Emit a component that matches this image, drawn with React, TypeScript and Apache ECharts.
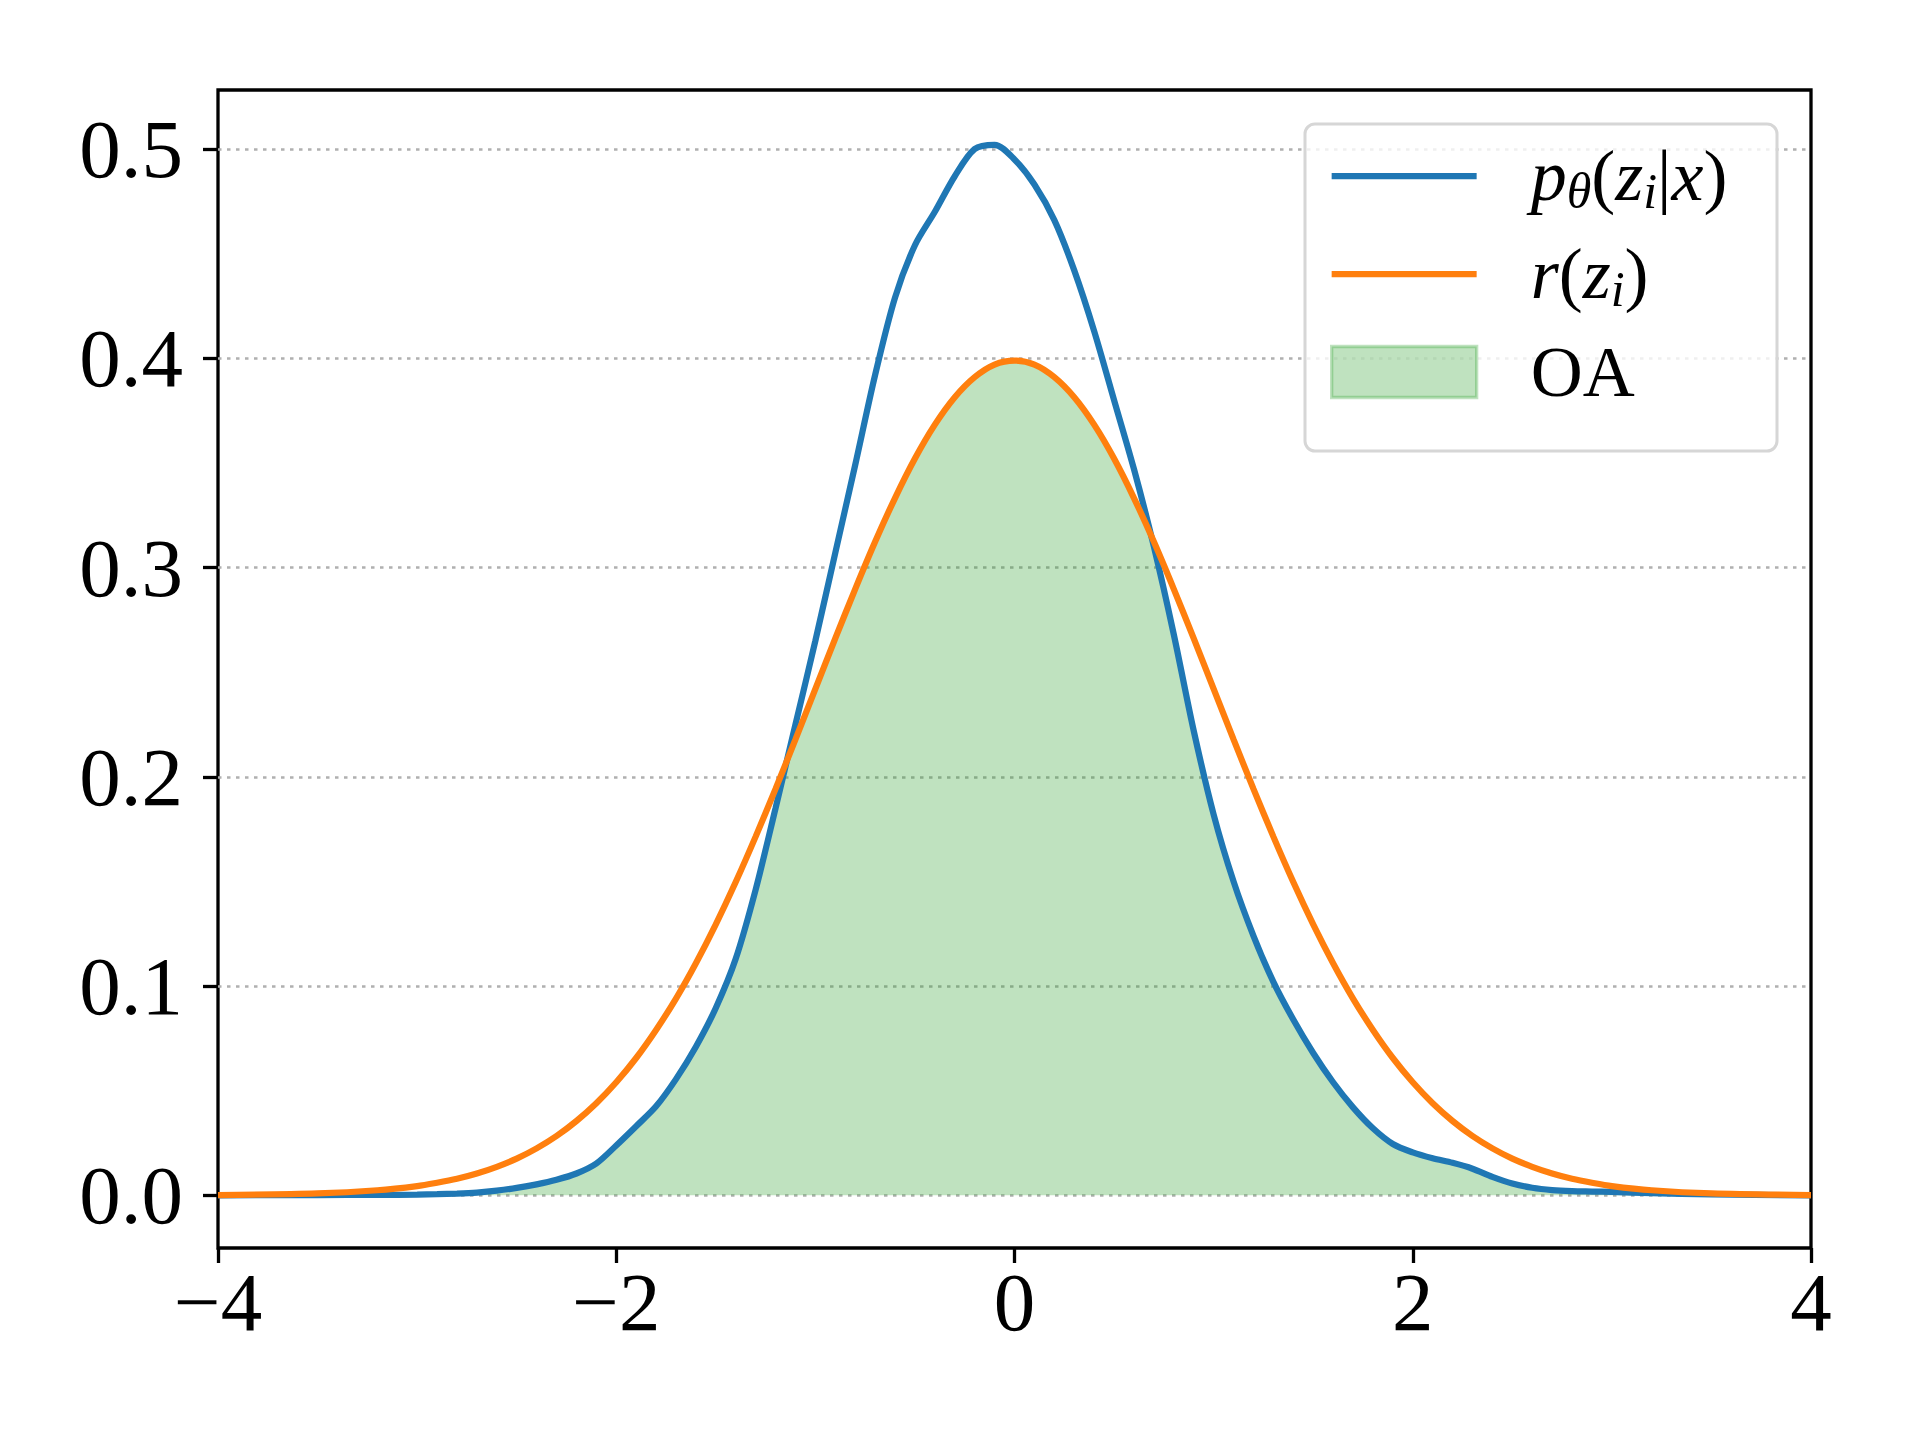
import React, { useEffect, useRef } from 'react';
import * as echarts from 'echarts';

// x positions shared by both curves
const xs = [
  -4, -3.5, -3.2, -3.0, -2.9, -2.8, -2.7, -2.6, -2.5, -2.4, -2.3, -2.2, -2.1,
  -2.0, -1.9, -1.8, -1.7, -1.6, -1.5, -1.4, -1.3, -1.2, -1.1, -1.0, -0.9, -0.8,
  -0.7, -0.6, -0.5, -0.4, -0.3, -0.2, -0.1, 0.0, 0.1, 0.2, 0.3, 0.4, 0.5, 0.6,
  0.7, 0.8, 0.9, 1.0, 1.1, 1.2, 1.3, 1.4, 1.5, 1.6, 1.7, 1.8, 1.9, 2.0, 2.1,
  2.2, 2.3, 2.4, 2.5, 2.6, 2.7, 2.8, 2.9, 3.0, 3.2, 3.5, 4,
];

// p_theta(z_i|x)
const posterior = [
  0.0, 0.0001, 0.0002, 0.0003, 0.0005, 0.0008, 0.0013, 0.0022, 0.0035, 0.0052,
  0.0074, 0.0104, 0.0152, 0.0238, 0.033, 0.0425, 0.0555, 0.071, 0.0895, 0.113,
  0.146, 0.185, 0.225, 0.265, 0.307, 0.349, 0.392, 0.429, 0.454, 0.47, 0.487,
  0.5, 0.502, 0.495, 0.483, 0.466, 0.442, 0.413, 0.38, 0.347, 0.31, 0.268,
  0.222, 0.182, 0.15, 0.124, 0.102, 0.084, 0.068, 0.054, 0.042, 0.032, 0.0245,
  0.0205, 0.0177, 0.0155, 0.0127, 0.0088, 0.0056, 0.0036, 0.0025, 0.002,
  0.0018, 0.0016, 0.001, 0.0004, 0.0,
];

// r(z_i)
const prior = [
  0.0001, 0.0009, 0.0024, 0.0044, 0.006, 0.0079, 0.0104, 0.0136, 0.0175,
  0.0224, 0.0283, 0.0355, 0.044, 0.054, 0.0656, 0.079, 0.094, 0.1109, 0.1295,
  0.1497, 0.1714, 0.1942, 0.2179, 0.242, 0.2661, 0.2897, 0.3123, 0.3332,
  0.3521, 0.3683, 0.3814, 0.391, 0.397, 0.3989, 0.397, 0.391, 0.3814, 0.3683,
  0.3521, 0.3332, 0.3123, 0.2897, 0.2661, 0.242, 0.2179, 0.1942, 0.1714,
  0.1497, 0.1295, 0.1109, 0.094, 0.079, 0.0656, 0.054, 0.044, 0.0355, 0.0283,
  0.0224, 0.0175, 0.0136, 0.0104, 0.0079, 0.006, 0.0044, 0.0024, 0.0009,
  0.0001,
];

const yTicks = [0, 0.1, 0.2, 0.3, 0.4, 0.5];

const FONT = '"Liberation Serif", "DejaVu Serif", serif';
const BLUE = '#1f77b4';
const ORANGE = '#ff7f0e';
const GREEN_A = 'rgba(44,160,44,0.3)';

export default function App() {
  const chartRef = useRef<HTMLDivElement>(null);

  useEffect(() => {
    if (!chartRef.current) return;
    const chart = echarts.init(chartRef.current, undefined, { renderer: 'svg' });

    const overlap = xs.map((x, i) => [x, Math.min(posterior[i], prior[i])]);

    const lineIcon = 'path://M0,0L145,0L145,6.25L0,6.25Z';

    chart.setOption({
      animation: false,
      backgroundColor: '#ffffff',
      grid: {
        left: 218,
        top: 90,
        width: 1593,
        height: 1158,
        show: true,
        borderColor: '#000',
        borderWidth: 3.3,
        backgroundColor: 'transparent',
      },
      xAxis: {
        type: 'value',
        min: -4,
        max: 4,
        interval: 2,
        axisLine: { show: false, onZero: false },
        axisTick: { show: true, length: 15, lineStyle: { color: '#000', width: 3.3 } },
        splitLine: { show: false },
        axisLabel: {
          color: '#000',
          fontFamily: FONT,
          fontSize: 83,
          margin: 12,
          formatter: (v: number) => (v < 0 ? '\u2212' + Math.abs(v) : String(v)),
        },
      },
      yAxis: {
        type: 'value',
        min: -0.0252,
        max: 0.5282,
        axisLine: { show: false, onZero: false },
        axisTick: {
          show: true,
          length: 15,
          customValues: yTicks,
          lineStyle: { color: '#000', width: 3.3 },
        },
        axisLabel: {
          color: '#000',
          fontFamily: FONT,
          fontSize: 83,
          margin: 35,
          customValues: yTicks,
          formatter: (v: number) => v.toFixed(1),
        },
        splitLine: {
          show: true,
          showMinLine: true,
          showMaxLine: true,
          lineStyle: { color: '#b0b0b0', width: 2.5, type: [3.5, 5.5] },
        },
      },
      legend: {
        orient: 'vertical',
        left: 1330,
        top: 140,
        padding: 0,
        itemGap: 22,
        itemWidth: 145,
        itemHeight: 51,
        selectedMode: false,
        symbolKeepAspect: true,
        textStyle: {
          color: '#000',
          fontFamily: FONT,
          fontSize: 72,
          padding: [0, 0, 0, 49],
          rich: {
            it: { fontFamily: FONT, fontSize: 72, fontStyle: 'italic', lineHeight: 80 },
            n: { fontFamily: FONT, fontSize: 72, lineHeight: 80 },
            sub: {
              fontFamily: FONT,
              fontSize: 50,
              fontStyle: 'italic',
              lineHeight: 40,
              verticalAlign: 'bottom',
            },
          },
        },
        data: [
          {
            name: 'posterior',
            icon: lineIcon,
            itemStyle: { color: BLUE, borderWidth: 0 },
          },
          {
            name: 'prior',
            icon: lineIcon,
            itemStyle: { color: ORANGE, borderWidth: 0 },
          },
          {
            name: 'OA',
            icon: 'rect',
            itemStyle: { color: GREEN_A, borderColor: GREEN_A, borderWidth: 3.3 },
          },
        ],
        formatter: (name: string) => {
          if (name === 'posterior') return '{it|p}{sub|θ}{n|(}{it|z}{sub|i}{n||}{it|x}{n|)}';
          if (name === 'prior') return '{it|r}{n|(}{it|z}{sub|i}{n|)}';
          return '{n|OA}';
        },
      },
      graphic: [
        {
          type: 'rect',
          z: 3,
          shape: { x: 1305, y: 124, width: 472, height: 327, r: 10 },
          style: { fill: 'rgba(255,255,255,0.8)', stroke: '#d6d6d6', lineWidth: 3 },
        },
      ],
      series: [
        {
          name: 'OA',
          type: 'line',
          data: overlap,
          smooth: 0.3,
          symbol: 'none',
          z: 1,
          itemStyle: { color: GREEN_A },
          lineStyle: { width: 0, color: GREEN_A },
          areaStyle: { color: GREEN_A, opacity: 1, origin: 0 },
        },
        {
          name: 'posterior',
          type: 'line',
          data: xs.map((x, i) => [x, posterior[i]]),
          smooth: 0.3,
          symbol: 'none',
          z: 2,
          itemStyle: { color: BLUE },
          lineStyle: { width: 6.25, color: BLUE },
        },
        {
          name: 'prior',
          type: 'line',
          data: xs.map((x, i) => [x, prior[i]]),
          smooth: 0.3,
          symbol: 'none',
          z: 2,
          itemStyle: { color: ORANGE },
          lineStyle: { width: 6.25, color: ORANGE },
        },
      ],
    });

    return () => {
      chart.dispose();
    };
  }, []);

  return (
    <div
      ref={chartRef}
      style={{ position: 'absolute', left: 0, top: 0, width: 1920, height: 1440 }}
    />
  );
}
